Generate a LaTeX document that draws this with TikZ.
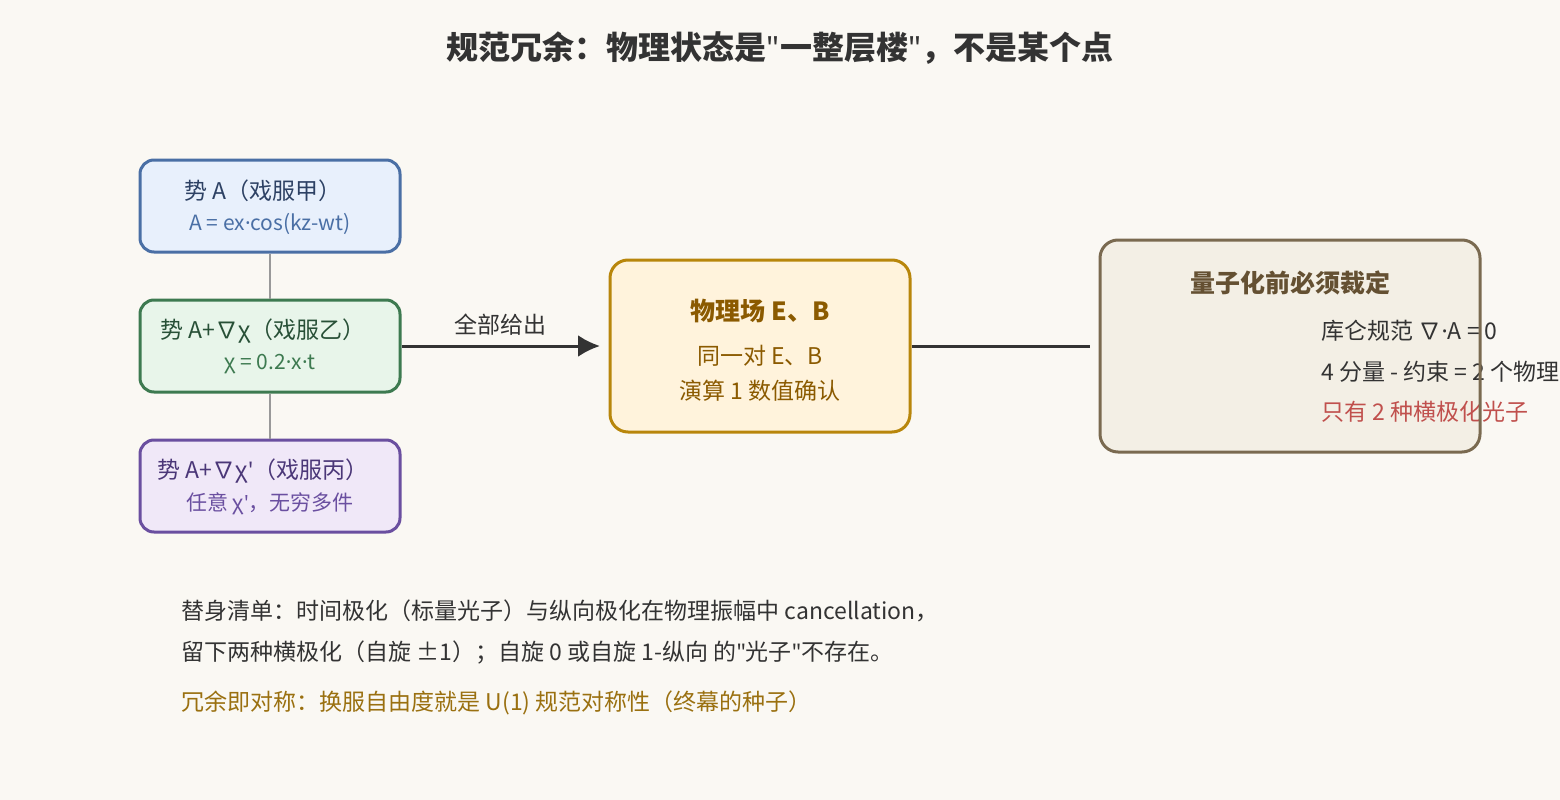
\documentclass[tikz,border=0pt]{standalone}
\usepackage{fontspec}
\usetikzlibrary{arrows.meta}
\setmainfont{Noto Sans CJK SC}
\newfontfamily\latf{Noto Sans}
\newcommand{\md}{{\latf ·}}
\newcommand{\qq}{{\latf "}}
\newcommand{\ap}{{\latf '}}
\begin{document}
\begin{tikzpicture}[x=1pt,y=-1pt,
  box/.style={draw,line width=3pt,rounded corners=14pt},
  big/.style={font=\fontsize{23}{27}\selectfont},
  small/.style={font=\fontsize{21}{25}\selectfont},
  conn/.style={draw=gray!80,line width=2.5pt}]
\useasboundingbox (0,0) rectangle (1560,800);
\clip (0,0) rectangle (1560,800);
\fill[fill={rgb,255:red,250;green,248;blue,243}] (0,0) rectangle (1560,800);
\node[font=\fontsize{32}{36}\selectfont\bfseries,text={rgb,255:red,51;green,51;blue,51}] (title) at (780,48) {规范冗余：物理状态是\qq 一整层楼\qq，不是某个点};
% left boxes
\node[box,draw={rgb,255:red,74;green,111;blue,165},fill={rgb,255:red,232;green,240;blue,252},minimum width=260pt,minimum height=92pt] (b1) at (270,206) {};
\node[big,text={rgb,255:red,45;green,65;blue,100}] (b1t) at (263,191) {势 A（戏服甲）};
\node[small,text={rgb,255:red,74;green,111;blue,165}] (b1s) at (270,224) {A = ex\md cos(kz-wt)};
\node[box,draw={rgb,255:red,61;green,122;blue,80},fill={rgb,255:red,232;green,245;blue,234},minimum width=260pt,minimum height=92pt] (b2) at (270,346) {};
\node[big,text={rgb,255:red,40;green,80;blue,55}] (b2t) at (263,331) {势 A+∇χ（戏服乙）};
\node[small,text={rgb,255:red,61;green,122;blue,80}] (b2s) at (270,364) {χ = 0.2\md x\md t};
\node[box,draw={rgb,255:red,106;green,79;blue,160},fill={rgb,255:red,240;green,232;blue,248},minimum width=260pt,minimum height=92pt] (b3) at (270,486) {};
\node[big,text={rgb,255:red,75;green,55;blue,120}] (b3t) at (263,471) {势 A+∇χ\ap（戏服丙）};
\node[small,text={rgb,255:red,106;green,79;blue,160}] (b3s) at (270,504) {任意 χ\ap，无穷多件};
\draw[conn] (b1.south) -- (b2.north);
\draw[conn] (b2.south) -- (b3.north);
% center
\node[box,rounded corners=18pt,draw={rgb,255:red,184;green,134;blue,11},fill={rgb,255:red,255;green,243;blue,220},minimum width=300pt,minimum height=172pt] (c) at (760,346) {};
\node[font=\fontsize{25}{29}\selectfont\bfseries,text={rgb,255:red,139;green,90;blue,0}] (ct) at (760,311) {物理场 E、B};
\node[big,text={rgb,255:red,139;green,90;blue,0}] (c1) at (760,356) {同一对 E、B};
\node[big,text={rgb,255:red,139;green,90;blue,0}] (c2) at (760,391) {演算 1 数值确认};
\coordinate (ae) at (600,346);
\draw[line width=3pt,draw={rgb,255:red,51;green,51;blue,51},-{Latex[length=22pt,width=22pt]}] (b2.east) -- node[above=6pt,big,text={rgb,255:red,51;green,51;blue,51}] (al) {全部给出} (ae);
% right box
\fill[rounded corners=18pt,fill={rgb,255:red,243;green,239;blue,229}] (1100,240) rectangle (1480,452);
\coordinate (rl) at (1090,346);
\draw[line width=3pt,draw={rgb,255:red,51;green,51;blue,51}] (c.east) -- (rl);
\node[font=\fontsize{25}{29}\selectfont\bfseries,text={rgb,255:red,100;green,80;blue,50}] (rt) at (1290,283) {量子化前必须裁定};
\node[big,anchor=west,text={rgb,255:red,51;green,51;blue,51}] (r1) at (1318,331) {库仑规范 ∇\md A = 0};
\node[big,anchor=west,text={rgb,255:red,51;green,51;blue,51}] (r2) at (1318,372) {4 分量 - 约束 = 2 个物理自由度};
\node[big,anchor=west,text={rgb,255:red,192;green,80;blue,77}] (r3) at (1318,412) {只有 2 种横极化光子};
\draw[line width=3pt,rounded corners=18pt,draw={rgb,255:red,122;green,106;blue,80}] (1100,240) rectangle (1480,452);
% bottom notes
\node[big,anchor=west,text={rgb,255:red,51;green,51;blue,51}] (n1) at (178,611) {替身清单：时间极化（标量光子）与纵向极化在物理振幅中 cancellation，};
\node[big,anchor=west,text={rgb,255:red,51;green,51;blue,51}] (n2) at (178,652) {留下两种横极化（自旋 ±1）；自旋 0 或自旋 1-纵向 的\qq 光子\qq 不存在。};
\node[big,anchor=west,text={rgb,255:red,154;green,112;blue,16}] (n3) at (178,703) {冗余即对称：换服自由度就是 U(1) 规范对称性（终幕的种子）};
\end{tikzpicture}
\end{document}
